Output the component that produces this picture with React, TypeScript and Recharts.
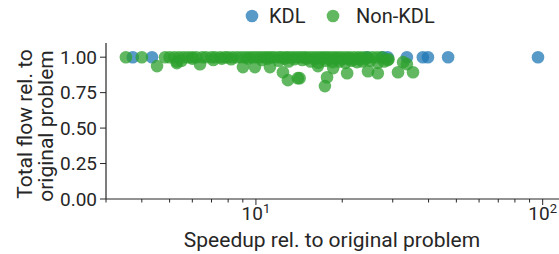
import React from 'react';
import { ScatterChart, Scatter, XAxis, YAxis } from 'recharts';

const kdlX = [3.72, 4.34, 24.4, 27.7, 28.8, 33.6, 38.2, 39.8, 46.8, 96.3];
const kdlY = [1.0, 1.0, 1.0, 1.0, 1.0, 1.0, 1.0, 1.0, 1.0, 1.0];

const nonKdlX = [
  3.52, 4.0, 4.82, 5.0, 5.2, 5.4, 5.6, 5.8, 6.0, 6.2, 6.5, 6.7, 7.0, 7.2, 7.5, 7.8, 8.0, 8.3, 8.6, 8.9,
  9.2, 9.5, 9.8, 10.1, 10.4, 10.7, 11.0, 11.3, 11.6, 12.0, 12.3, 12.7, 13.0, 13.4, 13.8, 14.2, 14.6, 15.0,
  15.5, 16.0, 16.5, 17.0, 17.5, 18.0, 18.6, 19.2, 19.8, 20.5, 21.2, 22.0, 22.8, 23.6, 24.5, 25.5, 26.5, 27.5,
  5.3, 5.5, 7.1, 8.2, 10.5, 12.0, 13.0, 14.5, 15.5, 16.5, 17.5, 18.5, 19.5, 20.5, 21.5, 22.5, 23.5, 25.0,
  26.6, 28.0, 29.0,
  6.0, 7.6, 9.4, 11.0, 12.6, 13.6, 15.0, 16.0, 17.0, 18.0, 19.0, 20.0, 21.0, 22.0, 23.0, 24.0,
  4.52, 5.30, 6.38, 9.01, 9.92, 11.19, 12.42, 12.93, 14.0, 16.45, 17.4, 17.7, 18.6, 20.8, 24.6, 26.6, 31.3,
  35.3, 33.6, 28.8, 32.6, 14.2,
];
const nonKdlY = [
  1.0, 1.0, 1.0, 1.0, 1.0, 1.0, 1.0, 1.0, 1.0, 1.0, 1.0, 1.0, 1.0, 1.0, 1.0, 1.0, 1.0, 1.0, 1.0, 1.0,
  1.0, 1.0, 1.0, 1.0, 1.0, 1.0, 1.0, 1.0, 1.0, 1.0, 1.0, 1.0, 1.0, 1.0, 1.0, 1.0, 1.0, 1.0,
  1.0, 1.0, 1.0, 1.0, 1.0, 1.0, 1.0, 1.0, 1.0, 1.0, 1.0, 1.0, 1.0, 1.0, 1.0, 1.0, 1.0, 1.0,
  0.97, 0.975, 0.98, 0.985, 0.98, 0.975, 0.97, 0.98, 0.97, 0.96, 0.975, 0.965, 0.97, 0.96, 0.975, 0.965, 0.97, 0.975,
  0.96, 0.97, 0.985,
  0.99, 0.99, 0.99, 0.99, 0.99, 0.985, 0.99, 0.985, 0.99, 0.985, 0.99, 0.985, 0.99, 0.985, 0.99, 0.985,
  0.937, 0.958, 0.95, 0.93, 0.93, 0.93, 0.894, 0.838, 0.852, 0.937, 0.796, 0.859, 0.923, 0.887, 0.901, 0.887, 0.894,
  0.894, 0.951, 0.979, 0.965, 0.852,
];

const xTicks = [3, 4, 5, 6, 7, 8, 9, 10, 20, 30, 40, 50, 60, 70, 80, 90, 100];
const yTicks = [0, 0.25, 0.5, 0.75, 1.0];

const kdlData = kdlX.map((x, i) => ({ x, y: kdlY[i] }));
const nonKdlData = nonKdlX.map((x, i) => ({ x, y: nonKdlY[i] }));

const BLUE = '#1f77b4';
const GREEN = '#2ca02c';
const AXIS = '#262626';
const TEXT = '#262626';
const FONT = 'Roboto, sans-serif';

const Dot = (color: string) => (props: any) => {
  const { cx, cy } = props;
  if (cx == null || cy == null) return null;
  return <circle cx={cx} cy={cy} r={6.3} fill={color} fillOpacity={0.75} stroke="none" />;
};

const XTick = (props: any) => {
  const { x, y, payload } = props;
  const v = payload.value;
  const major = v === 10 || v === 100;
  return (
    <g>
      <line x1={x} x2={x} y1={y} y2={y + (major ? 6 : 3.5)} stroke={AXIS} strokeWidth={1} />
      {major && (
        <text x={x} y={y + 21} textAnchor="middle" fill={TEXT} fontSize={19} fontFamily={FONT}>
          10
          <tspan dy={-7} fontSize={13}>{v === 10 ? '1' : '2'}</tspan>
        </text>
      )}
    </g>
  );
};

const XLabel = () => (
  <text x={332} y={247} textAnchor="middle" fill={TEXT} fontSize={21} fontFamily={FONT}>
    Speedup rel. to original problem
  </text>
);

const YLabel = () => (
  <g>
    <text transform="translate(32,124) rotate(-90)" textAnchor="middle" fill={TEXT} fontSize={21} fontFamily={FONT}>
      Total flow rel. to
    </text>
    <text transform="translate(53,126) rotate(-90)" textAnchor="middle" fill={TEXT} fontSize={21} fontFamily={FONT}>
      original problem
    </text>
  </g>
);

const Legend = () => (
  <div style={{ position: 'absolute', left: 0, top: 0, width: 559, height: 30, pointerEvents: 'none' }}>
    <svg width={559} height={30}>
      <circle cx={252} cy={16} r={6.3} fill={BLUE} fillOpacity={0.75} />
      <text x={269} y={23} fill={TEXT} fontSize={20} fontFamily={FONT}>KDL</text>
      <circle cx={333} cy={16} r={6.3} fill={GREEN} fillOpacity={0.75} />
      <text x={356} y={23} fill={TEXT} fontSize={20} fontFamily={FONT}>Non-KDL</text>
    </svg>
  </div>
);

export default function App() {
  return (
    <div style={{ position: 'absolute', left: 0, top: 0, width: 559, height: 254, background: '#fff' }}>
      <ScatterChart width={559} height={254} margin={{ top: 43, right: 0, bottom: 0, left: 46 }}>
        <XAxis
          type="number"
          dataKey="x"
          scale="log"
          domain={[3, 114]}
          allowDataOverflow
          ticks={xTicks}
          interval={0}
          tick={<XTick />}
          tickLine={false}
          tickSize={0}
          tickMargin={0}
          height={55}
          axisLine={{ stroke: AXIS, strokeWidth: 1.2 }}
          label={{ content: <XLabel /> }}
        />
        <YAxis
          type="number"
          dataKey="y"
          domain={[0, 1.1]}
          ticks={yTicks}
          interval={0}
          width={60}
          tickFormatter={(v: number) => v.toFixed(2)}
          tick={{ fill: TEXT, fontSize: 19, fontFamily: FONT }}
          tickLine={{ stroke: AXIS }}
          tickSize={6}
          tickMargin={3}
          axisLine={{ stroke: AXIS, strokeWidth: 1.2 }}
          label={{ content: <YLabel /> }}
        />
        <Scatter data={kdlData} fill={BLUE} shape={Dot(BLUE)} isAnimationActive={false} />
        <Scatter data={nonKdlData} fill={GREEN} shape={Dot(GREEN)} isAnimationActive={false} />
      </ScatterChart>
      <Legend />
    </div>
  );
}
